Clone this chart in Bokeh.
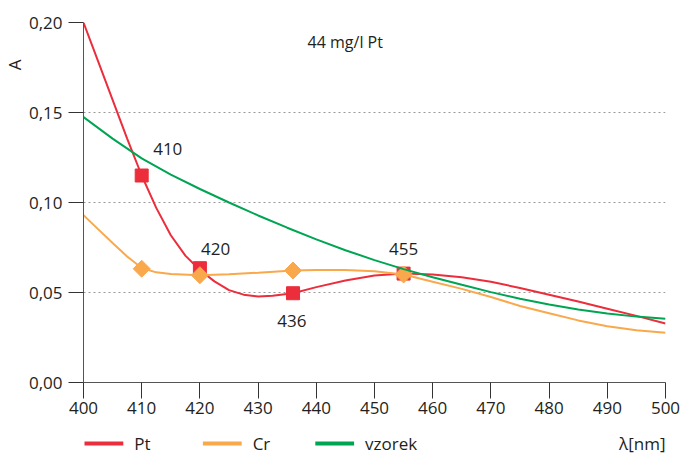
from bokeh.plotting import figure
from bokeh.layouts import column
from bokeh.models import Range1d, FixedTicker, CustomJSTickFormatter, Label, Title
from bokeh.embed import file_html
from bokeh.resources import INLINE

FONT = "Open Sans"

pt_x = [400, 402.5, 405, 407.5, 410, 412.5, 415, 417.5, 420, 422.5, 425, 427.5, 430, 432.5, 436,
        440, 445, 450, 455, 460, 465, 470, 475, 480, 485, 490, 495, 500]
pt_y = [0.200, 0.1785, 0.157, 0.1355, 0.115, 0.0970, 0.0818, 0.0705, 0.0625, 0.0562, 0.0513, 0.0488,
        0.0478, 0.0482, 0.0496, 0.053, 0.0567, 0.0594, 0.0605, 0.060, 0.0585, 0.056, 0.0525, 0.0488,
        0.045, 0.041, 0.037, 0.0328]

cr_x = [400, 402.5, 405, 407.5, 410, 412.5, 415, 420, 425, 430, 436, 440, 445, 450, 455, 460,
        465, 470, 475, 480, 485, 490, 495, 500]
cr_y = [0.093, 0.0852, 0.0775, 0.0700, 0.0636, 0.0612, 0.0603, 0.0596, 0.0602, 0.061, 0.0622, 0.0625,
        0.0625, 0.0618, 0.060, 0.056, 0.052, 0.0475, 0.0425, 0.0385, 0.0345, 0.0313, 0.029, 0.0276]

vz_x = [400, 405, 410, 415, 420, 425, 430, 435, 440, 445, 450, 455, 460, 465, 470, 475, 480,
        485, 490, 495, 500]
vz_y = [0.1474, 0.1355, 0.1245, 0.1155, 0.1075, 0.1000, 0.0928, 0.0860, 0.0795, 0.0735, 0.068, 0.063,
        0.0585, 0.0543, 0.0502, 0.0465, 0.0433, 0.0405, 0.0383, 0.0366, 0.0354]

mark_x = [410, 420, 436, 455]
pt_mark_y = [0.115, 0.0635, 0.0496, 0.0605]
cr_mark_y = [0.0632, 0.0596, 0.0622, 0.060]

x_ticks = list(range(400, 501, 10))
y_ticks = [0.0, 0.05, 0.10, 0.15, 0.20]

series_names = ["Pt", "Cr", "vzorek"]

RED = "#EC2D3B"
ORANGE = "#F9A84B"
GREEN = "#00A553"
TXT = "#231F20"

p = figure(width=681, height=425, output_backend="svg", toolbar_location=None,
           x_range=Range1d(400, 500), y_range=Range1d(0, 0.2),
           min_border_left=80, min_border_right=16, min_border_top=22, min_border_bottom=43)
p.outline_line_color = None
p.background_fill_color = "white"
p.border_fill_color = "white"

p.xgrid.visible = False
p.ygrid.ticker = FixedTicker(ticks=y_ticks)
p.ygrid.grid_line_color = "#999999"
p.ygrid.grid_line_dash = "2 3"
p.ygrid.grid_line_width = 1

for ax in (p.xaxis[0], p.yaxis[0]):
    ax.axis_line_color = "#555555"
    ax.major_tick_line_color = "#333333"
    ax.major_tick_in = 0
    ax.minor_tick_line_color = None
    ax.major_label_text_font = FONT
    ax.major_label_text_font_size = "17px"
    ax.major_label_text_color = TXT

p.xaxis.ticker = FixedTicker(ticks=x_ticks)
p.xaxis.major_tick_out = 16
p.xaxis.major_label_standoff = 3
p.yaxis.ticker = FixedTicker(ticks=y_ticks)
p.yaxis.major_tick_out = 15
p.yaxis.major_label_standoff = 6
p.yaxis.formatter = CustomJSTickFormatter(code="return tick.toFixed(2).replace('.', ',');")

p.line(pt_x, pt_y, line_color=RED, line_width=2)
p.scatter(mark_x, pt_mark_y, marker="square", size=13, fill_color=RED, line_color=RED)
p.line(cr_x, cr_y, line_color=ORANGE, line_width=2)
p.scatter(mark_x, cr_mark_y, marker="square", size=12, angle=0.785398, fill_color=ORANGE, line_color=ORANGE)
p.line(vz_x, vz_y, line_color=GREEN, line_width=2)

def lab(fig, x, y, t, align="left", size="17px"):
    fig.add_layout(Label(x=x, y=y, text=t, text_font=FONT, text_font_size=size, text_color=TXT,
                         text_align=align, text_baseline="middle"))

lab(p, 411.97, 0.130, "410")
lab(p, 420.2, 0.0744, "420")
lab(p, 433.3, 0.0344, "436")
lab(p, 452.5, 0.0744, "455")
lab(p, 438.5, 0.1889, "44 mg/l Pt", size="16px")

ytitle = Title(text="A", align="right", offset=37, standoff=0, text_font=FONT, text_font_size="17px",
               text_font_style="normal", text_color=TXT)
p.add_layout(ytitle, "left")

# legend strip below the chart, sharing the chart's horizontal scale
lg = figure(width=681, height=30, output_backend="svg", toolbar_location=None,
            x_range=p.x_range, y_range=Range1d(0, 30),
            x_axis_type=None, y_axis_type=None,
            min_border_left=80, min_border_right=16, min_border_top=0, min_border_bottom=0)
lg.outline_line_color = None
lg.grid.visible = False
lg.border_fill_color = "white"
lg.background_fill_color = "white"

def px_to_x(px):
    return 400 + (px - 80) * 100.0 / 585.0

LEG_Y = 12
sw_px = [81, 200, 313]
sw_colors = [RED, ORANGE, GREEN]
for x0, c, name in zip(sw_px, sw_colors, series_names):
    lg.line([px_to_x(x0), px_to_x(x0 + 39)], [LEG_Y, LEG_Y], line_color=c, line_width=4)
    lab(lg, px_to_x(x0 + 50), LEG_Y, name)
lab(lg, 500, LEG_Y, "λ[nm]", align="right")

layout = column(p, lg, spacing=0)
open("out.html", "w").write(file_html(layout, INLINE))
